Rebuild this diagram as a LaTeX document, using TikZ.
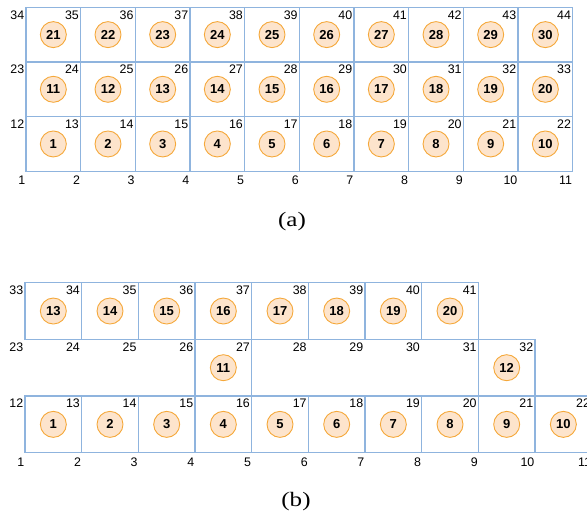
\documentclass[tikz,border=0pt]{standalone}
\usepackage{fontspec}
\setmainfont{Liberation Sans}
\newfontfamily\capfont{Liberation Serif}
\definecolor{gridblue}{HTML}{8FB4DE}
\definecolor{elemorange}{HTML}{F5A83A}
\definecolor{elemfill}{HTML}{FDE4CC}
\begin{document}
\begin{tikzpicture}[x=1pt,y=-1pt,
  cell/.style={draw=gridblue,line width=1.1pt},
  elem/.style={circle,draw=elemorange,fill=elemfill,line width=0.9pt,minimum size=26pt,inner sep=0pt,font=\fontsize{13}{13}\selectfont\bfseries},
  vlab/.style={anchor=base east,inner sep=0pt,font=\fontsize{12.4}{12.4}\selectfont},
  captext/.style={font=\capfont\fontsize{20.5}{20.5}\selectfont,inner sep=0pt,anchor=base,xscale=1.22}]
\useasboundingbox (0,0) rectangle (587,514);
\clip (0,0) rectangle (587,514);
% ---------- (a) ----------
\def\ax{26}\def\ay{171.3}\def\as{54.67}
\foreach \r in {0,1,2}{\foreach \c in {0,...,9}{
  \pgfmathtruncatemacro\n{10*\r+\c+1}
  \draw[cell] (\ax+\c*\as, \ay-\r*\as) rectangle ++(\as,-\as);
  \node[elem] (a\n) at (\ax+\c*\as+\as/2, \ay-\r*\as-\as/2) {\n};
}}
\foreach \r in {0,...,3}{\foreach \c in {0,...,10}{
  \pgfmathtruncatemacro\n{11*\r+\c+1}
  \ifnum\r=0
    \node[vlab] (av\n) at (\ax+\c*\as-0.5, \ay+13.3) {\n};
  \else
    \node[vlab] (av\n) at (\ax+\c*\as-1.6, \ay-\r*\as+11.9) {\n};
  \fi
}}
\node[captext] (capa) at (292,226) {(a)};
% ---------- (b) ----------
\def\bx{25}\def\by{452.7}\def\bs{56.67}
\foreach \c in {0,...,9}{
  \pgfmathtruncatemacro\n{\c+1}
  \draw[cell] (\bx+\c*\bs, \by) rectangle ++(\bs,-\bs);
  \node[elem] (b\n) at (\bx+\c*\bs+\bs/2, \by-\bs/2) {\n};
}
\foreach \n/\c in {11/3,12/8}{
  \draw[cell] (\bx+\c*\bs, \by-\bs) rectangle ++(\bs,-\bs);
  \node[elem] (b\n) at (\bx+\c*\bs+\bs/2, \by-1.5*\bs) {\n};
}
\foreach \c in {0,...,7}{
  \pgfmathtruncatemacro\n{\c+13}
  \draw[cell] (\bx+\c*\bs, \by-2*\bs) rectangle ++(\bs,-\bs);
  \node[elem] (b\n) at (\bx+\c*\bs+\bs/2, \by-2.5*\bs) {\n};
}
\foreach \c in {0,...,10}{
  \pgfmathtruncatemacro\n{\c+1}
  \node[vlab] (bv\n) at (\bx+\c*\bs-0.5, \by+13.3) {\n};
  \pgfmathtruncatemacro\m{\c+12}
  \node[vlab] (bv\m) at (\bx+\c*\bs-1.6, \by-\bs+11.9) {\m};
}
\foreach \c in {0,...,9}{
  \pgfmathtruncatemacro\n{\c+23}
  \node[vlab] (bv\n) at (\bx+\c*\bs-1.6, \by-2*\bs+11.9) {\n};
}
\foreach \c in {0,...,8}{
  \pgfmathtruncatemacro\n{\c+33}
  \node[vlab] (bv\n) at (\bx+\c*\bs-1.6, \by-3*\bs+11.9) {\n};
}
\node[captext] (capb) at (296,506) {(b)};
\end{tikzpicture}
\end{document}
